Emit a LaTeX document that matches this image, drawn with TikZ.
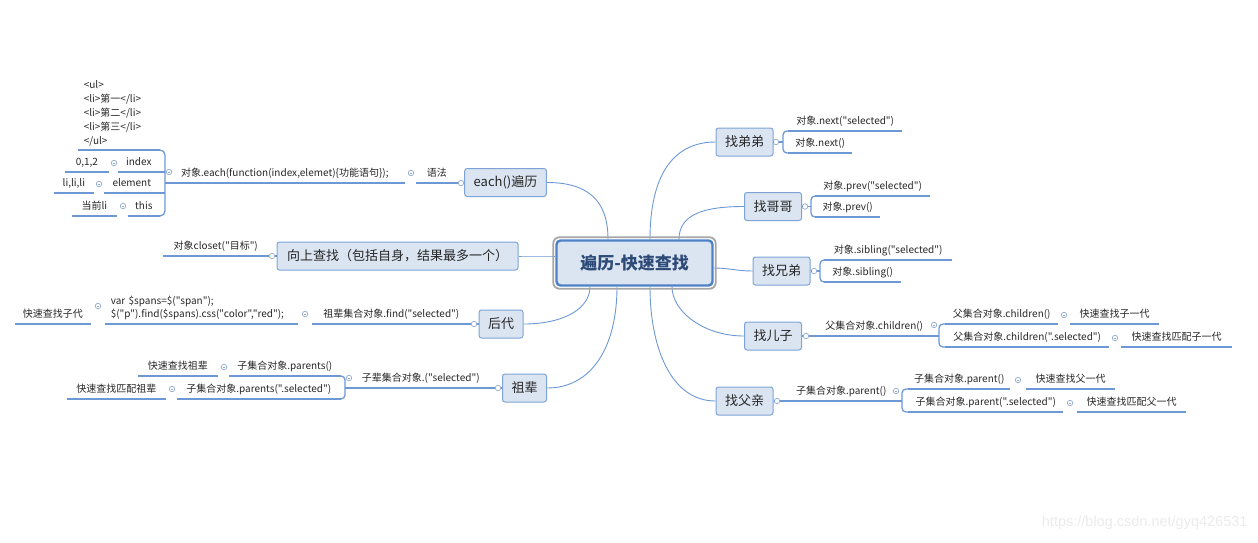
\documentclass[tikz,border=0pt]{standalone}
\usepackage{fontspec}
\setmainfont{Noto Sans CJK SC}[Ligatures = TeXOff]
\newfontfamily\markfont{Liberation Sans}
\usepackage{tikz}
\usetikzlibrary{positioning}
\usetikzlibrary{backgrounds}
\usepackage{xcolor}
\definecolor{boxfill}{HTML}{DBE5F1}
\definecolor{boxline}{HTML}{7DA3D8}
\definecolor{rootline}{HTML}{4F81C7}
\definecolor{rootring}{HTML}{A6A6A6}
\definecolor{rootfont}{HTML}{2E4B78}
\definecolor{linkcol}{HTML}{6C98D6}
\definecolor{knobcol}{HTML}{8EA9CF}

\begin{document}
\begin{tikzpicture}[x = 1pt, y = -1pt,
  every node/.style = {text = black!85},
  rootbox/.style = {draw = rootline, line width = 2.4pt, fill = boxfill, rounded corners = 4pt,
    minimum width = 156pt, minimum height = 45pt, text = rootfont,
    font = \fontsize{17}{20}\selectfont\bfseries},
  topic/.style = {draw = boxline, line width = 1pt, fill = boxfill, rounded corners = 2.5pt,
    minimum height = 28pt, inner xsep = 9pt, font = \fontsize{13}{15}\selectfont},
  leaf/.style = {minimum width = #1pt, inner xsep = 4pt, inner ysep = 4pt,
    text height = 7pt, text depth = 2.5pt, font = \fontsize{10}{11}\selectfont},
  lleaf/.style = {leaf = #1, anchor = south east},
  rleaf/.style = {leaf = #1, anchor = south west},
  block/.style = {text width = #1pt, inner xsep = 6pt, inner ysep = 4pt, align = left,
    anchor = south east, font = \fontsize{10}{14}\selectfont},
  link/.style = {draw = linkcol, line width = 0.9pt},
  uline/.style = {draw = linkcol, line width = 1.3pt},
  knob/.style = {circle, draw = knobcol, fill = white, line width = 0.7pt,
    inner sep = 0pt, minimum size = 5.5pt},
  fold/.style = {knob, path picture = {\draw[knobcol, line width = 0.7pt]
    ([xshift = 1.3pt]path picture bounding box.west) -- ([xshift = -1.3pt]path picture bounding box.east);}}
]
\useasboundingbox (0,0) rectangle (1258,542);

% centre and main topics
\node[rootbox] (root) at (634.5,263) {遍历-快速查找};
\draw[rootring, line width = 1.8pt, rounded corners = 6pt]
  ([shift = {(-2,-2)}]root.north west) rectangle ([shift = {(2,2)}]root.south east);
\node[topic] (each) at (505.5,182.5) {each()遍历};
\node[topic, minimum width = 241pt] (up) at (397.5,256) {向上查找（包括自身，结果最多一个）};
\node[topic] (houdai) at (501,324) {后代};
\node[topic] (zubei) at (524.5,388) {祖辈};
\node[topic] (didi) at (744.5,142) {找弟弟};
\node[topic] (gege) at (773,206.5) {找哥哥};
\node[topic] (xiongdi) at (781.5,271) {找兄弟};
\node[topic] (erzi) at (773,336) {找儿子};
\node[topic] (fuqin) at (744.5,401) {找父亲};

\begin{scope}[on background layer]
  \draw[link] ([xshift = -26.5pt]root.north) .. controls +(0,-40) and +(40,0) .. (each.east);
  \draw[link] ([yshift = 7pt]root.west) .. controls +(-15,0) and +(15,0) .. (up.east);
  \draw[link] ([xshift = -44.5pt]root.south) .. controls +(0,22) and +(40,0) .. (houdai.east);
  \draw[link] ([xshift = -17.5pt]root.south) .. controls +(0,60) and +(45,0) .. (zubei.east);
  \draw[link] ([xshift = 15.5pt]root.north) .. controls +(0,-60) and +(-45,0) .. (didi.west);
  \draw[link] ([xshift = 44.5pt]root.north) .. controls +(0,-25) and +(-40,0) .. (gege.west);
  \draw[link] ([yshift = -5pt]root.east) .. controls +(15,0) and +(-15,0) .. (xiongdi.west);
  \draw[link] ([xshift = 37.5pt]root.south) .. controls +(0,25) and +(-40,0) .. (erzi.west);
  \draw[link] ([xshift = 15.5pt]root.south) .. controls +(0,60) and +(-45,0) .. (fuqin.west);
\end{scope}

% knobs next to the topics
\foreach \n/\x/\y in {k1/461/183, ku/272/256, kh/474/324, kz/498/388,
    kd/776/142, kg/805/206.5, ks/814/271, ke/806/336, kf/777/401}
  \node[knob] (\n) at (\x,\y) {};
\foreach \t/\k in {each/k1, up/ku, houdai/kh, zubei/kz, didi/kd, gege/kg, xiongdi/ks, erzi/ke, fuqin/kf}
  \draw[uline] (\t) -- (\k);

% left side
\node[lleaf = 42] (e0) at (458,183) {语法};
\node[lleaf = 240] (e1) at (405,183) {对象.each(function(index,elemet)\{功能语句\});};
\node[block = 70] (ulb) at (160,150) {<ul>\\<li>第一</li>\\<li>第二</li>\\<li>第三</li>\\</ul>};
\node[lleaf = 42] (i1) at (160,172) {index};
\node[left = 9pt of i1.south west, lleaf = 43] (i0) {0,1,2};
\node[lleaf = 56] (m1) at (160,193) {element};
\node[left = 10pt of m1.south west, lleaf = 39] (m0) {li,li,li};
\node[lleaf = 32] (t1) at (160,216) {this};
\node[left = 11pt of t1.south west, lleaf = 44] (t0) {当前li};
\node[lleaf = 106] (u1) at (269,256) {对象closet("目标")};
\node[lleaf = 159] (d1) at (471,324) {祖辈集合对象.find("selected")};
\node[block = 181, font = \fontsize{10}{13}\selectfont] (d2) at (298,324)
  {var \$spans=\$("span");\\\$("p").find(\$spans).css("color","red");};
\node[left = 14pt of d2.south west, lleaf = 75] (d3) {快速查找子代};
\node[lleaf = 148] (z1) at (495,388) {子辈集合对象.("selected")};
\node[lleaf = 112] (z2) at (341,376) {子集合对象.parents()};
\node[left = 11pt of z2.south west, lleaf = 79] (z2a) {快速查找祖辈};
\node[lleaf = 164] (z3) at (341,399) {子集合对象.parents(".selected")};
\node[left = 11pt of z3.south west, lleaf = 98] (z3a) {快速查找匹配祖辈};

% right side
\node[rleaf = 114] (n1) at (788,131) {对象.next("selected")};
\node[rleaf = 64] (n2) at (788,153) {对象.next()};
\node[rleaf = 115] (p1) at (815,196) {对象.prev("selected")};
\node[rleaf = 65] (p2) at (815,217) {对象.prev()};
\node[rleaf = 128] (s1) at (824,260) {对象.sibling("selected")};
\node[rleaf = 77] (s2) at (824,282) {对象.sibling()};
\node[rleaf = 130] (c0) at (809,336) {父集合对象.children()};
\node[rleaf = 113] (c1) at (945,324) {父集合对象.children()};
\node[right = 12pt of c1.south east, rleaf = 88] (c1a) {快速查找子一代};
\node[rleaf = 164] (c2) at (945,347) {父集合对象.children(".selected")};
\node[right = 12pt of c2.south east, rleaf = 110] (c2a) {快速查找匹配子一代};
\node[rleaf = 122] (f0) at (780,401) {子集合对象.parent()};
\node[rleaf = 102] (f1) at (908,389) {子集合对象.parent()};
\node[right = 16pt of f1.south east, rleaf = 88] (f1a) {快速查找父一代};
\node[rleaf = 155] (f2) at (908,412) {子集合对象.parent(".selected")};
\node[right = 14pt of f2.south east, rleaf = 108] (f2a) {快速查找匹配父一代};

\foreach \n in {e0,e1,ulb,i1,i0,m1,m0,t1,t0,u1,d1,d2,d3,z1,z2,z2a,z3,z3a,
    n1,n2,p1,p2,s1,s2,c0,c1,c1a,c2,c2a,f0,f1,f1a,f2,f2a}
  \draw[uline] (\n.south west) -- (\n.south east);

% brackets
\coordinate (b1) at (165,183);
\coordinate (bz) at (345,388);
\coordinate (bd) at (783,142);
\coordinate (bg) at (811,206.5);
\coordinate (bs) at (820,271);
\coordinate (be) at (939,336);
\coordinate (bf) at (902,401);
\draw[uline, rounded corners = 5pt] (ulb.south east) -| (b1) |- (t1.south east);
\draw[uline] (i1.south east) -- (i1.south east -| b1) (m1.south east) -- (m1.south east -| b1);
\draw[uline, rounded corners = 4pt] (z2.south east) -| (bz) |- (z3.south east);
\draw[uline] (bz) -- (z1.south west);
\draw[uline, rounded corners = 4pt] (n1.south west) -| (bd) |- (n2.south west);
\draw[uline, rounded corners = 4pt] (p1.south west) -| (bg) |- (p2.south west);
\draw[uline, rounded corners = 4pt] (s1.south west) -| (bs) |- (s2.south west);
\draw[uline, rounded corners = 4pt] (c1.south west) -| (be) |- (c2.south west);
\draw[uline, rounded corners = 4pt] (f1.south west) -| (bf) |- (f2.south west);
\draw[uline] (kd) -- (bd) (kg) -- (bg) (ks) -- (bs);

% fold marks
\foreach \n/\x/\y in {fa/411/173, fb/169/172, fc/114/163, fd/99/184, fe/123/206,
    ff/305/314, fg/98/306, fh/349/378, fi/224/367, fj/172/389,
    fk/934/325, fl/1064/315, fm/1115/338, fn/896/391, fo/1018/380, fp/1070/403}
  \node[fold] (\n) at (\x,\y) {};

\node[font = \markfont\fontsize{14.5}{16}\selectfont, text = black!8, anchor = east] (mark)
  at (1251,523) {https://blog.csdn.net/gyq426531};
\end{tikzpicture}
\end{document}
